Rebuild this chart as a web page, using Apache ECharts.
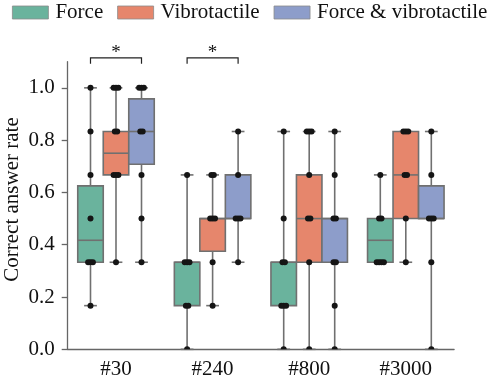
<!DOCTYPE html>
<html>
<head>
<meta charset="utf-8">
<script src="https://cdn.jsdelivr.net/npm/echarts@6/dist/echarts.min.js"></script>
<style>html,body{margin:0;padding:0;background:#fff;}#c{width:491px;height:377px;}</style>
</head>
<body>
<div id="c"></div>
<script>
// ---- data ----
const categories = ['#30', '#240', '#800', '#3000'];
const conditions = ['Force', 'Vibrotactile', 'Force & vibrotactile'];
const yTicks = [0, 0.2, 0.4, 0.6, 0.8, 1.0];

// box stats per category: [min, Q1, median, Q3, max]
const forceBox = [[0.167, 0.333, 0.417, 0.625, 1.0], [0, 0.167, 0.333, 0.333, 0.667], [0, 0.167, 0.333, 0.333, 0.833], [0.333, 0.333, 0.417, 0.5, 0.667]];
const vibroBox = [[0.333, 0.667, 0.75, 0.833, 1.0], [0.167, 0.375, 0.5, 0.5, 0.667], [0, 0.333, 0.5, 0.667, 0.833], [0.333, 0.5, 0.667, 0.833, 0.833]];
const bothBox  = [[0.333, 0.708, 0.833, 0.958, 1.0], [0.333, 0.5, 0.5, 0.667, 0.833], [0, 0.333, 0.5, 0.5, 0.833], [0, 0.5, 0.5, 0.625, 0.833]];

// individual participant scores per category
const forcePts = [
  [1.0, 0.833, 0.667, 0.5, 0.333, 0.333, 0.333, 0.167],
  [0.667, 0.333, 0.333, 0.333, 0.167, 0.167, 0.0],
  [0.833, 0.5, 0.333, 0.333, 0.167, 0.167, 0.167, 0.0],
  [0.667, 0.5, 0.5, 0.333, 0.333, 0.333, 0.333]
];
const vibroPts = [
  [1.0, 1.0, 1.0, 0.833, 0.833, 0.667, 0.667, 0.667, 0.333],
  [0.667, 0.667, 0.5, 0.5, 0.5, 0.333, 0.167],
  [0.833, 0.833, 0.833, 0.667, 0.5, 0.5, 0.333, 0.0],
  [0.833, 0.833, 0.833, 0.667, 0.667, 0.5, 0.333]
];
const bothPts = [
  [1.0, 1.0, 1.0, 0.833, 0.833, 0.667, 0.5, 0.333],
  [0.833, 0.667, 0.5, 0.5, 0.5, 0.333],
  [0.833, 0.667, 0.5, 0.5, 0.333, 0.333, 0.167, 0.0],
  [0.833, 0.667, 0.5, 0.5, 0.5, 0.333, 0.0]
];
// significance brackets (category index, from condition, to condition)
const sigPairs = [[0, 0, 2], [1, 0, 2]];
const sigLabel = '*';

// ---- styling ----
const colors = ['#6ab39d', '#e6866c', '#8d9dca'];
const edge = '#707070';
const FONT = "'Liberation Serif', 'Times New Roman', serif";
const FS = 21;
const BOX_FRAC = 0.264; // box width relative to category band

const boxSets = [forceBox, vibroBox, bothBox];
const ptSets = [forcePts, vibroPts, bothPts];

function boxSeries(ci) {
  return {
    type: 'custom',
    name: conditions[ci],
    itemStyle: { color: colors[ci] },
    encode: { x: 0, y: [1, 2, 3, 4, 5] },
    data: boxSets[ci].map((s, k) => [k].concat(s)),
    z: 2,
    renderItem: function (params, api) {
      const cat = api.value(0);
      const band = api.size([1, 0])[0];
      const bw = band * BOX_FRAC;
      const cx = api.coord([cat, 0])[0] + (ci - 1) * bw;
      const y = i => api.coord([cat, api.value(i)])[1];
      const yMin = y(1), yQ1 = y(2), yMed = y(3), yQ3 = y(4), yMax = y(5);
      const ls = { stroke: edge, lineWidth: 1.6 };
      const cap = bw / 4;
      return {
        type: 'group',
        children: [
          { type: 'line', shape: { x1: cx, y1: yQ3, x2: cx, y2: yMax }, style: ls },
          { type: 'line', shape: { x1: cx, y1: yQ1, x2: cx, y2: yMin }, style: ls },
          { type: 'line', shape: { x1: cx - cap, y1: yMax, x2: cx + cap, y2: yMax }, style: ls },
          { type: 'line', shape: { x1: cx - cap, y1: yMin, x2: cx + cap, y2: yMin }, style: ls },
          { type: 'rect', shape: { x: cx - bw / 2, y: yQ3, width: bw, height: yQ1 - yQ3 },
            style: { fill: colors[ci], stroke: edge, lineWidth: 1.6 } },
          { type: 'line', shape: { x1: cx - bw / 2, y1: yMed, x2: cx + bw / 2, y2: yMed }, style: ls }
        ]
      };
    }
  };
}

// points: [cat, value, cond, jitterIndex, dupCount]
const pointData = [];
ptSets.forEach((set, ci) => {
  set.forEach((vals, k) => {
    const counts = {};
    vals.forEach(v => { counts[v] = (counts[v] || 0) + 1; });
    const seen = {};
    vals.forEach(v => {
      seen[v] = (seen[v] || 0);
      pointData.push([k, v, ci, seen[v], counts[v]]);
      seen[v]++;
    });
  });
});

const pointSeries = {
  type: 'custom',
  name: 'points',
  clip: true,
  z: 5,
  encode: { x: 0, y: 1 },
  data: pointData,
  renderItem: function (params, api) {
    const cat = api.value(0);
    const ci = api.value(2);
    const j = api.value(3), n = api.value(4);
    const band = api.size([1, 0])[0];
    const bw = band * BOX_FRAC;
    const p = api.coord([cat, api.value(1)]);
    const off = (j - (n - 1) / 2) * 2.4;
    return { type: 'circle', shape: { cx: p[0] + (ci - 1) * bw + off, cy: p[1], r: 3 },
      style: { fill: '#151515' } };
  }
};

const bracketSeries = {
  type: 'custom',
  name: 'sig',
  clip: false,
  z: 6,
  silent: true,
  encode: { x: 0 },
  data: sigPairs,
  renderItem: function (params, api) {
    const cat = api.value(0);
    const band = api.size([1, 0])[0];
    const bw = band * BOX_FRAC;
    const c = api.coord([cat, 1.115]);
    const yLeg = api.coord([cat, 1.092])[1];
    const x1 = c[0] + (api.value(1) - 1) * bw, x2 = c[0] + (api.value(2) - 1) * bw;
    return {
      type: 'group',
      children: [
        { type: 'polyline', shape: { points: [[x1, yLeg], [x1, c[1]], [x2, c[1]], [x2, yLeg]] },
          style: { stroke: '#222', lineWidth: 1.2, fill: null } },
        { type: 'text', style: { text: sigLabel, x: (x1 + x2) / 2, y: c[1] - 5, align: 'center',
          verticalAlign: 'middle', font: '19px ' + FONT, fill: '#111' } }
      ]
    };
  }
};

const chart = echarts.init(document.getElementById('c'), null, { renderer: 'canvas' });
chart.setOption({
  animation: false,
  backgroundColor: '#fff',
  textStyle: { fontFamily: FONT },
  legend: {
    data: conditions,
    left: 7, top: -3,
    width: 700,
    icon: 'rect',
    itemWidth: 36, itemHeight: 13, itemGap: 14,
    itemStyle: { borderColor: '#8a8a8a', borderWidth: 0.8 },
    textStyle: { fontFamily: FONT, fontSize: FS, color: '#111', padding: [0, 0, 0, 2] }
  },
  grid: { left: 67.7, right: 36.9, top: 61.7, bottom: 27.7, containLabel: false, outerBoundsMode: 'none' },
  xAxis: {
    type: 'category',
    data: categories,
    axisLine: { lineStyle: { color: '#666', width: 1.3 } },
    axisTick: { alignWithLabel: true, length: 6, lineStyle: { color: '#666', width: 1.3 } },
    axisLabel: { fontFamily: FONT, fontSize: FS, color: '#111', margin: 10 },
    splitLine: { show: false }
  },
  yAxis: {
    type: 'value',
    min: 0, max: 1.1,
    name: 'Correct answer rate',
    nameLocation: 'middle',
    nameGap: 45,
    nameMoveOverlap: false,
    nameTextStyle: { fontFamily: FONT, fontSize: FS, color: '#111', padding: [0, 0, 0, 12] },
    axisLine: { show: true, lineStyle: { color: '#666', width: 1.3 } },
    axisTick: { show: true, length: 6, customValues: yTicks, lineStyle: { color: '#666', width: 1.3 } },
    axisLabel: { fontFamily: FONT, fontSize: FS, color: '#111', margin: 13, customValues: yTicks,
      formatter: v => v.toFixed(1) },
    splitLine: { show: false }
  },
  series: [boxSeries(0), boxSeries(1), boxSeries(2), pointSeries, bracketSeries]
});
</script>
</body>
</html>
